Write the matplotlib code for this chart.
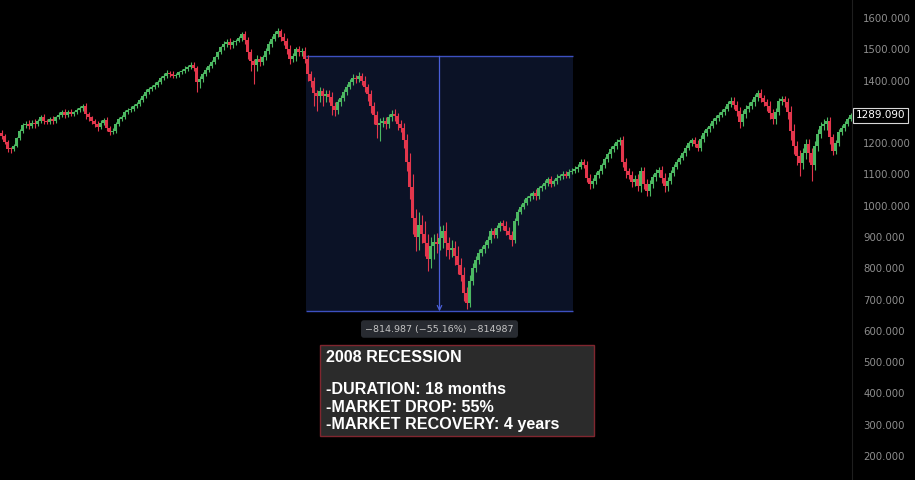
import numpy as np
import matplotlib
matplotlib.use("Agg")
import matplotlib.pyplot as plt
from matplotlib.patches import Rectangle
from matplotlib.transforms import blended_transform_factory

# ---- data (weekly-ish candles) ---------------------------------------------
first_open = 1232
closes = [
    1222, 1205, 1182, 1180, 1192, 1215, 1238, 1258, 1262, 1255,
    1266, 1260, 1272, 1282, 1270, 1268, 1276, 1270, 1282, 1290,
    1298, 1290, 1300, 1294, 1298, 1306, 1312, 1318, 1292, 1282,
    1270, 1260, 1252, 1266, 1274, 1250, 1236, 1240, 1262, 1276,
    1284, 1298, 1306, 1310, 1318, 1326, 1338, 1350, 1364, 1372,
    1380, 1386, 1396, 1408, 1416, 1424, 1420, 1416, 1418, 1426,
    1430, 1438, 1444, 1450, 1440, 1395, 1404, 1422, 1434, 1446,
    1460, 1474, 1490, 1506, 1518, 1524, 1514, 1522, 1528, 1536,
    1548, 1530, 1490, 1462, 1450, 1470, 1460, 1474, 1494, 1518,
    1534, 1550, 1558, 1540, 1526, 1500, 1470, 1478, 1500, 1490,
    1494, 1470, 1420, 1400, 1360, 1352, 1366, 1350, 1358, 1346,
    1320, 1306, 1330, 1345, 1362, 1380, 1396, 1408, 1404, 1414,
    1400, 1380, 1356, 1320, 1290, 1258, 1266, 1272, 1262, 1284,
    1294, 1286, 1262, 1250, 1210, 1140, 1060, 960, 900, 940,
    910, 880, 830, 870, 884, 878, 896, 918, 880, 860,
    866, 840, 812, 780, 720, 690, 760, 800, 826, 850,
    862, 876, 890, 918, 908, 930, 944, 936, 920, 906,
    890, 950, 980, 996, 1010, 1024, 1032, 1040, 1030, 1056,
    1062, 1072, 1084, 1070, 1078, 1090, 1094, 1102, 1096, 1108,
    1112, 1118, 1124, 1140, 1130, 1090, 1068, 1080, 1098, 1110,
    1130, 1148, 1164, 1180, 1192, 1204, 1210, 1140, 1110, 1098,
    1076, 1086, 1064, 1110, 1070, 1046, 1070, 1092, 1104, 1114,
    1090, 1062, 1080, 1104, 1124, 1140, 1154, 1168, 1186, 1200,
    1210, 1198, 1186, 1214, 1232, 1244, 1256, 1272, 1280, 1290,
    1300, 1310, 1326, 1336, 1322, 1304, 1268, 1292, 1310, 1320,
    1330, 1346, 1360, 1344, 1330, 1320, 1296, 1276, 1300, 1334,
    1340, 1330, 1300, 1240, 1190, 1160, 1136, 1170, 1196, 1170,
    1130, 1190, 1230, 1256, 1262, 1270, 1220, 1176, 1200, 1236,
    1248, 1262, 1276, 1289,
]
wick_up = [
    10, 8, 6, 5, 6, 5, 6, 8, 10, 12,
    8, 10, 6, 8, 10, 6, 8, 10, 6, 8,
    8, 10, 6, 8, 6, 6, 8, 6, 10, 8,
    6, 8, 10, 8, 6, 10, 6, 8, 6, 6,
    6, 8, 6, 8, 6, 6, 6, 6, 8, 6,
    6, 8, 6, 6, 8, 10, 8, 10, 6, 6,
    6, 8, 6, 10, 8, 8, 10, 6, 8, 6,
    6, 6, 6, 6, 8, 10, 12, 8, 6, 8,
    8, 12, 10, 10, 8, 12, 10, 8, 10, 8,
    10, 8, 10, 8, 12, 10, 14, 10, 8, 10,
    10, 12, 12, 10, 12, 10, 14, 10, 12, 12,
    16, 12, 10, 10, 12, 8, 8, 12, 10, 12,
    10, 14, 10, 14, 10, 12, 14, 12, 12, 10,
    12, 14, 10, 12, 16, 20, 30, 40, 30, 40,
    30, 40, 30, 30, 25, 30, 40, 20, 30, 20,
    25, 20, 30, 20, 25, 20, 20, 16, 14, 12,
    10, 12, 14, 10, 12, 10, 8, 12, 14, 12,
    14, 10, 10, 8, 10, 8, 10, 8, 12, 8,
    8, 10, 8, 10, 8, 10, 8, 10, 8, 8,
    8, 8, 10, 8, 10, 14, 12, 10, 10, 8,
    8, 8, 8, 10, 8, 10, 10, 14, 12, 12,
    14, 12, 16, 14, 14, 16, 12, 10, 12, 10,
    12, 14, 12, 10, 8, 8, 8, 8, 8, 8,
    8, 10, 12, 12, 10, 8, 8, 8, 10, 8,
    8, 10, 8, 10, 12, 14, 12, 14, 12, 10,
    10, 12, 10, 12, 10, 12, 14, 14, 12, 10,
    12, 10, 14, 18, 20, 16, 18, 14, 18, 16,
    14, 16, 14, 12, 14, 12, 14, 10, 10, 8,
    10, 8, 8, 6,
]
wick_dn = [
    10, 8, 10, 12, 6, 5, 6, 6, 8, 10,
    8, 10, 6, 8, 10, 8, 6, 8, 6, 6,
    6, 10, 8, 8, 6, 6, 6, 8, 14, 10,
    10, 8, 12, 8, 8, 12, 10, 8, 6, 6,
    6, 6, 6, 6, 6, 6, 6, 8, 6, 6,
    6, 6, 6, 8, 6, 8, 10, 8, 8, 6,
    6, 6, 8, 6, 10, 30, 20, 8, 6, 6,
    6, 6, 6, 6, 8, 10, 12, 10, 8, 6,
    8, 12, 20, 30, 60, 20, 14, 10, 8, 8,
    10, 8, 12, 14, 12, 14, 16, 12, 14, 10,
    12, 14, 20, 22, 40, 50, 20, 30, 20, 16,
    30, 18, 14, 10, 10, 8, 8, 10, 12, 10,
    14, 16, 20, 24, 30, 40, 50, 14, 16, 12,
    12, 14, 20, 14, 24, 30, 40, 50, 45, 40,
    30, 40, 40, 30, 40, 30, 20, 30, 40, 30,
    25, 30, 30, 20, 25, 20, 15, 14, 12, 12,
    10, 12, 12, 10, 12, 10, 10, 12, 14, 12,
    20, 10, 10, 8, 8, 8, 10, 10, 12, 8,
    8, 10, 8, 10, 8, 10, 8, 10, 8, 8,
    8, 8, 10, 8, 10, 14, 14, 10, 10, 8,
    8, 8, 8, 10, 8, 10, 10, 16, 20, 14,
    16, 14, 18, 20, 18, 16, 14, 12, 14, 12,
    16, 18, 16, 10, 8, 8, 8, 8, 8, 8,
    8, 10, 12, 12, 10, 8, 8, 8, 10, 8,
    8, 10, 8, 10, 12, 16, 18, 14, 12, 10,
    10, 12, 10, 12, 12, 16, 18, 16, 14, 10,
    12, 14, 24, 30, 26, 30, 40, 20, 22, 30,
    50, 16, 14, 12, 14, 20, 22, 14, 10, 8,
    10, 8, 8, 6,
]
# 1300 is hidden behind the last-price tag in the reference
price_ticks = [200, 300, 400, 500, 600, 700, 800, 900, 1000, 1100,
               1200, 1400, 1500, 1600]
last_price = 1289.090
measure_top, measure_bottom = 1477.487, 662.500
measure_start, measure_end, measure_mid = 102, 190, 146
measure_label = "\u2212814.987 (\u221255.16%) \u2212814987"
box_lines = ["2008 RECESSION", "", "-DURATION: 18 months",
             "-MARKET DROP: 55%", "-MARKET RECOVERY: 4 years"]

UP, DOWN = "#4cb862", "#e3364c"
BLUE, NAVY = "#3d50c0", "#0b1226"

fig = plt.figure(figsize=(9.15, 4.8), dpi=100, facecolor="black")
ax = fig.add_axes([0, 0, 852 / 915, 1], facecolor="black")

# measurement box behind the candles
ax.add_patch(Rectangle((measure_start - 0.5, measure_bottom),
                       measure_end - measure_start + 1, measure_top - measure_bottom,
                       facecolor=NAVY, edgecolor="none", zorder=0))
ax.hlines([measure_top, measure_bottom], measure_start - 0.5, measure_end + 0.5,
          color=BLUE, lw=1.0, zorder=1)
ax.annotate("", xy=(measure_mid, measure_bottom), xytext=(measure_mid, measure_top),
            arrowprops=dict(arrowstyle="->", color="#4a5ed8", lw=0.9,
                            shrinkA=0, shrinkB=0, mutation_scale=8), zorder=1)

# candles
opens = [first_open] + closes[:-1]
for i, (o, c, hu, hd) in enumerate(zip(opens, closes, wick_up, wick_dn)):
    col = UP if c >= o else DOWN
    top, bot = max(o, c), min(o, c)
    ax.vlines(i, bot - hd, top + hu, color=col, lw=0.8, zorder=2)
    ax.add_patch(Rectangle((i - 0.42, bot), 0.84, max(top - bot, 3),
                           facecolor=col, edgecolor="none", zorder=3))

ax.set_xlim(-0.5, len(closes) - 0.5)
ax.set_ylim(123.5, 1657.5)

# right price scale
ax.yaxis.tick_right()
ax.set_yticks(price_ticks)
ax.set_yticklabels([f"{v:.3f}" for v in price_ticks])
ax.tick_params(axis="y", length=0, pad=8, labelcolor="#8e8e8e", labelsize=7.3)
ax.set_xticks([])
for s in ["top", "bottom", "left"]:
    ax.spines[s].set_visible(False)
ax.spines["right"].set_color("#1e1e1e")

trans = blended_transform_factory(ax.transAxes, ax.transData)
ax.text(1.004, last_price, f"{last_price:.3f}", transform=trans, ha="left", va="center",
        fontsize=7.5, color="white", clip_on=False, zorder=5,
        bbox=dict(boxstyle="square,pad=0.25", facecolor="black", edgecolor="#d8d8d8", lw=0.8))

# measure readout
ax.text(measure_mid, 606, measure_label, ha="center", va="center", fontsize=6.8,
        color="#c4c4c4", zorder=5,
        bbox=dict(boxstyle="round,pad=0.45,rounding_size=0.3", facecolor="#282b31",
                  edgecolor="none"))

# annotation box
fig.patches.append(Rectangle((320 / 915, 1 - 436 / 480), 274 / 915, 91 / 480,
                             transform=fig.transFigure, facecolor="#2b2b2b",
                             edgecolor="#80262f", lw=1.0, zorder=6))
ys = [357, 374, 390, 407, 424]
for txt, y in zip(box_lines, ys):
    if txt:
        fig.text(326 / 915, 1 - y / 480, txt, ha="left", va="center", fontsize=11.6,
                 color="white", fontweight="bold", family="Liberation Sans", zorder=7)

fig.savefig("out.png", dpi=100, facecolor="black")
